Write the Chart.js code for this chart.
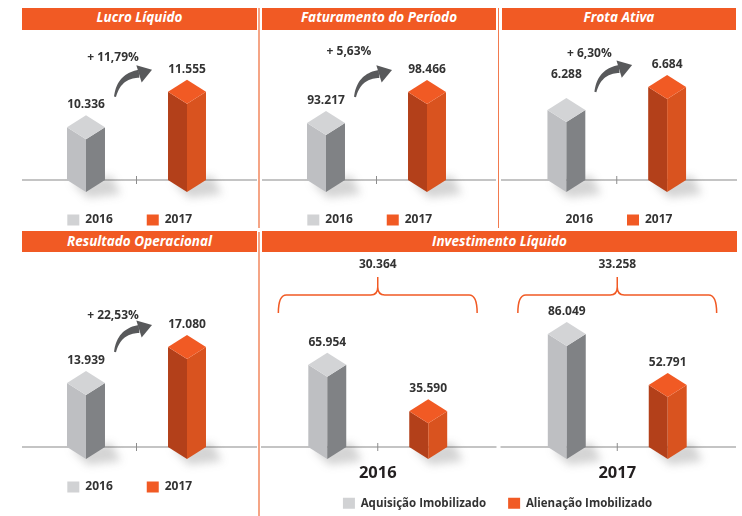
<!DOCTYPE html>
<html lang="pt-BR">
<head>
<meta charset="utf-8">
<script src="https://cdn.jsdelivr.net/npm/chart.js@4"></script>
<style>
  body { margin: 0; width: 742px; height: 516px; overflow: hidden; background: #fff; position: relative; }
  .titulo { position: absolute; height: 22px; line-height: 22px; background: #f15a24; color: #fff;
            font: italic bold 13.5px "Open Sans", sans-serif; text-align: center; z-index: 2; }
  .painel { position: absolute; display: block; z-index: 1; }
  .sep { position: absolute; z-index: 3; }
</style>
</head>
<body>
<div class="sep" style="left:258px;top:8px;width:2px;height:220px;background:#f5a586"></div>
<div class="sep" style="left:258px;top:232px;width:2px;height:284px;background:#f5a586"></div>
<div class="sep" style="left:498px;top:8px;width:1px;height:220px;background:#f27a4e"></div>

<div class="titulo" style="left:22px;top:8px;width:235px">Lucro Líquido</div>
<div class="titulo" style="left:262px;top:8px;width:234px">Faturamento do Período</div>
<div class="titulo" style="left:502px;top:8px;width:234px">Frota Ativa</div>
<div class="titulo" style="left:22px;top:231px;width:235px;height:21px;line-height:21px">Resultado Operacional</div>
<div class="titulo" style="left:262px;top:231px;width:475px;height:21px;line-height:21px">Investimento Líquido</div>

<canvas id="lucro" class="painel" width="235" height="206" style="left:22px;top:30px"></canvas>
<canvas id="faturamento" class="painel" width="234" height="206" style="left:262px;top:30px"></canvas>
<canvas id="frota" class="painel" width="236" height="206" style="left:501px;top:30px"></canvas>
<canvas id="resultado" class="painel" width="235" height="251" style="left:22px;top:252px"></canvas>
<canvas id="investimento" class="painel" width="479" height="267" style="left:258px;top:252px"></canvas>

<script>
// dados
const anos = ['2016', '2017'];
const lucroLiquido = [10336, 11555];
const faturamento = [93217, 98466];
const frotaAtiva = [6288, 6684];
const resultadoOperacional = [13939, 17080];
const crescimento = ['+ 11,79%', '+ 5,63%', '+ 6,30%', '+ 22,53%'];
const aquisicaoImobilizado = [65954, 86049];
const alienacaoImobilizado = [35590, 52791];
const investimentoLiquido = [30364, 33258];

const CINZA = '#d1d2d4';
const LARANJA = '#f15a24';
const FACES = [
    { topo: '#d3d4d6', esq: '#bebfc2', dir: '#808285' },
    { topo: '#f15a24', esq: '#b3401a', dir: '#d9531f' }
];

Chart.defaults.font.family = '"Open Sans", sans-serif';
Chart.defaults.color = '#333';

const fmt = v => v.toString().replace(/\B(?=(\d{3})+(?!\d))/g, '.');

// ---------- desenho das caixas 3D ----------
function sombra(ctx, bar, base) {
    const w = bar.width / 2, dy = bar.width * 0.316, x = bar.x;
    ctx.save();
    ctx.filter = 'blur(4px)';
    ctx.fillStyle = 'rgba(60,60,60,0.22)';
    ctx.beginPath();
    ctx.moveTo(x - w + 4, base + 2);
    ctx.lineTo(x + 2, base + dy + 6);
    ctx.lineTo(x + w + 16, base + dy + 2);
    ctx.lineTo(x + w + 6, base - 4);
    ctx.closePath();
    ctx.fill();
    ctx.restore();
}

function caixa(ctx, bar, base, f) {
    const w = bar.width / 2, dy = bar.width * 0.316, x = bar.x, y = bar.y;
    ctx.fillStyle = f.esq;
    ctx.beginPath();
    ctx.moveTo(x - w, y); ctx.lineTo(x, y + dy); ctx.lineTo(x, base + dy); ctx.lineTo(x - w, base);
    ctx.closePath(); ctx.fill();
    ctx.fillStyle = f.dir;
    ctx.beginPath();
    ctx.moveTo(x, y + dy); ctx.lineTo(x + w, y); ctx.lineTo(x + w, base); ctx.lineTo(x, base + dy);
    ctx.closePath(); ctx.fill();
    ctx.fillStyle = f.topo;
    ctx.beginPath();
    ctx.moveTo(x - w, y); ctx.lineTo(x, y - dy); ctx.lineTo(x + w, y); ctx.lineTo(x, y + dy);
    ctx.closePath(); ctx.fill();
}

function seta(ctx, x1, x2, topo) {
    const x0 = x1 + 29, y0 = topo + 17;
    const cx = x1 + 33, cy = topo - 4;
    const xb = x2 - 48, yb = topo - 6;
    const tx = x2 - 35, ty = topo - 10;
    const lados = [];
    for (let k = 0; k <= 20; k++) {
        const t = k / 20;
        const px = (1 - t) * (1 - t) * x0 + 2 * (1 - t) * t * cx + t * t * xb;
        const py = (1 - t) * (1 - t) * y0 + 2 * (1 - t) * t * cy + t * t * yb;
        const dx = 2 * (1 - t) * (cx - x0) + 2 * t * (xb - cx);
        const dy = 2 * (1 - t) * (cy - y0) + 2 * t * (yb - cy);
        const len = Math.hypot(dx, dy);
        const meia = 1 + 3 * t;
        lados.push([px, py, -dy / len * meia, dx / len * meia]);
    }
    ctx.fillStyle = '#58595b';
    ctx.beginPath();
    lados.forEach((p, k) => k ? ctx.lineTo(p[0] + p[2], p[1] + p[3]) : ctx.moveTo(p[0] + p[2], p[1] + p[3]));
    for (let k = lados.length - 1; k >= 0; k--) ctx.lineTo(lados[k][0] - lados[k][2], lados[k][1] - lados[k][3]);
    ctx.closePath();
    ctx.fill();
    const hx = tx - xb, hy = ty - yb, hl = Math.hypot(hx, hy);
    const nx = -hy / hl * 9, ny = hx / hl * 9;
    ctx.beginPath();
    ctx.moveTo(tx, ty); ctx.lineTo(xb + nx, yb + ny); ctx.lineTo(xb - nx, yb - ny);
    ctx.closePath();
    ctx.fill();
}

function chave(ctx, a, b, y) {
    const m = (a + b) / 2;
    ctx.beginPath();
    ctx.moveTo(a, y + 18);
    ctx.quadraticCurveTo(a, y, a + 8, y);
    ctx.lineTo(m - 7, y);
    ctx.quadraticCurveTo(m, y, m, y - 8);
    ctx.lineTo(m, y - 18);
    ctx.moveTo(m, y - 8);
    ctx.quadraticCurveTo(m, y, m + 7, y);
    ctx.lineTo(b - 8, y);
    ctx.quadraticCurveTo(b, y, b, y + 18);
    ctx.stroke();
}

const caixa3d = {
    id: 'caixa3d',
    beforeDatasetsDraw(chart, args, opts) {
        const ctx = chart.ctx;
        const area = chart.chartArea;
        const xs = chart.scales.x;
        const base = area.bottom;
        const passo = xs.getPixelForTick(1) - xs.getPixelForTick(0);
        ctx.save();

        // linha de base
        ctx.strokeStyle = '#b1b1b1';
        ctx.lineWidth = 1.5;
        ctx.beginPath();
        const marcas = [];
        if (opts.segmentado) {
            chart.data.labels.forEach((l, i) => {
                const x = xs.getPixelForTick(i);
                ctx.moveTo(x - passo / 2 + 3, base);
                ctx.lineTo(x + passo / 2 - 1, base);
                marcas.push(x);
            });
        } else {
            ctx.moveTo(0, base);
            ctx.lineTo(chart.width, base);
            marcas.push(xs.getPixelForTick(0) + passo / 2);
        }
        ctx.stroke();
        ctx.strokeStyle = '#8c8c8c';
        ctx.lineWidth = 1;
        ctx.beginPath();
        marcas.forEach(x => { ctx.moveTo(x, base - 4); ctx.lineTo(x, base + 4); });
        ctx.stroke();

        // barras
        const barras = [];
        chart.data.datasets.forEach((ds, i) => {
            chart.getDatasetMeta(i).data.forEach((bar, j) => {
                if (ds.data[j] == null) return;
                barras.push({ bar, valor: ds.data[j], faces: FACES[i] });
            });
        });
        barras.forEach(b => sombra(ctx, b.bar, base));
        barras.forEach(b => caixa(ctx, b.bar, base, b.faces));

        ctx.fillStyle = '#333';
        ctx.textAlign = 'center';
        ctx.textBaseline = 'middle';

        // rótulos das categorias (só no investimento)
        if (opts.segmentado) {
            ctx.fillStyle = '#231f20';
            ctx.font = 'bold 16.5px "Open Sans"';
            chart.data.labels.forEach((l, i) => ctx.fillText(l, xs.getPixelForTick(i), base + 26));
            ctx.fillStyle = '#333';
        }

        // valores
        ctx.font = 'bold 12px "Open Sans"';
        barras.forEach((b, k) => {
            const elevar = (opts.elevar && opts.elevar[k]) || 0;
            ctx.fillText(fmt(b.valor), b.bar.x, b.bar.y - b.bar.width * 0.316 - 10.5 - elevar);
        });

        // crescimento
        if (opts.crescimento) {
            const b1 = barras[0].bar, b2 = barras[1].bar;
            const topo2 = b2.y - b2.width * 0.316;
            ctx.fillText(opts.crescimento, b1.x + opts.pct[0], topo2 + opts.pct[1]);
            seta(ctx, b1.x, b2.x, topo2);
        }

        // chaves do investimento
        if (opts.chaves) {
            ctx.strokeStyle = LARANJA;
            ctx.lineWidth = 1.5;
            opts.chaves.forEach((v, i) => {
                const x = xs.getPixelForTick(i);
                chave(ctx, x - passo * 0.415, x + passo * 0.415, area.top + 35);
                ctx.fillText(fmt(v), x, area.top + 5);
            });
        }
        ctx.restore();
        return false;
    }
};

function legendaAnual(padding) {
    return {
        position: 'bottom',
        labels: { boxWidth: 12, boxHeight: 11, padding: padding, color: '#333',
                  font: { size: 12, weight: 'bold' } }
    };
}

// ---------- painéis 2016 x 2017 ----------
function painelAnual(id, valores, yMin, yMax, padTop, padL, padR, extra) {
    const legenda = legendaAnual(34);
    if (extra.semCaixa2016) {
        legenda.labels.generateLabels = function(chart) {
            const itens = Chart.defaults.plugins.legend.labels.generateLabels(chart);
            itens[0].fillStyle = 'rgba(0,0,0,0)';
            itens[0].strokeStyle = 'rgba(0,0,0,0)';
            return itens;
        };
    }
    return new Chart(document.getElementById(id), {
        type: 'bar',
        data: {
            labels: anos,
            datasets: [
                { label: anos[0], data: [valores[0], null], backgroundColor: CINZA },
                { label: anos[1], data: [null, valores[1]], backgroundColor: LARANJA }
            ]
        },
        options: {
            responsive: false,
            animation: false,
            events: [],
            datasets: { bar: { grouped: false, categoryPercentage: 1, barPercentage: 0.376 } },
            layout: { padding: { top: padTop, left: padL, right: padR, bottom: 0 } },
            scales: {
                x: { display: false },
                y: {
                    min: yMin, max: yMax,
                    ticks: { display: false },
                    grid: { display: false },
                    border: { display: false },
                    afterFit(s) { s.width = 13.5; }
                }
            },
            plugins: {
                legend: legenda,
                tooltip: { enabled: false },
                caixa3d: extra
            }
        },
        plugins: [caixa3d]
    });
}

painelAnual('lucro', lucroLiquido, 8530, 13400, 8, 0, 19.5,
    { crescimento: crescimento[0], pct: [27, -22] });
painelAnual('faturamento', faturamento, 83570, 107600, 8, 0, 18.5,
    { crescimento: crescimento[1], pct: [23, -28] });
painelAnual('frota', frotaAtiva, 5083, 7528, 8, 1.5, 19.5,
    { crescimento: crescimento[2], pct: [23, -21], elevar: [12.5, 0], semCaixa2016: true });
painelAnual('resultado', resultadoOperacional, 8354, 24670, 8, 0, 19.5,
    { crescimento: crescimento[3], pct: [27, -19] });

// ---------- investimento líquido ----------
new Chart(document.getElementById('investimento'), {
    type: 'bar',
    data: {
        labels: anos,
        datasets: [
            { label: 'Aquisição Imobilizado', data: aquisicaoImobilizado, backgroundColor: CINZA },
            { label: 'Alienação Imobilizado', data: alienacaoImobilizado, backgroundColor: LARANJA }
        ]
    },
    options: {
        responsive: false,
        animation: false,
        events: [],
        datasets: { bar: { categoryPercentage: 0.843, barPercentage: 0.376 } },
        layout: { padding: { top: 8, left: 0, right: 0, bottom: 0 } },
        scales: {
            x: {
                ticks: { display: false },
                grid: { display: false, drawTicks: false },
                border: { display: false },
                afterFit(s) { s.height = 28.5; }
            },
            y: { display: false, min: 12220, max: 134440 }
        },
        plugins: {
            legend: {
                position: 'bottom',
                labels: { boxWidth: 12, boxHeight: 11, padding: 22, color: '#333',
                          font: { size: 11.5, weight: 'bold' } }
            },
            tooltip: { enabled: false },
            caixa3d: { segmentado: true, chaves: investimentoLiquido }
        }
    },
    plugins: [caixa3d]
});
</script>
</body>
</html>
